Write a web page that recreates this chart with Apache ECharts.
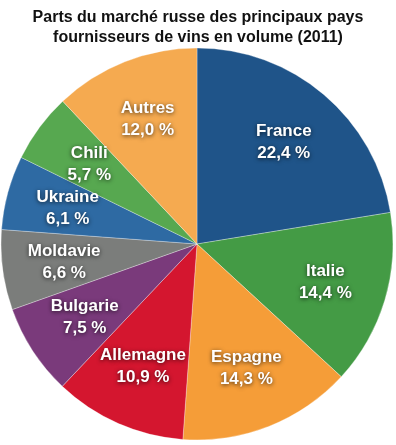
<!DOCTYPE html>
<html><head><meta charset="utf-8">
<script src="https://cdn.jsdelivr.net/npm/echarts@6/dist/echarts.min.js"></script>
<style>html,body{margin:0;padding:0;background:#fff}#c{width:396px;height:445px}</style>
</head><body><div id="c"></div>
<script>
const categories = ['France','Italie','Espagne','Allemagne','Bulgarie','Moldavie','Ukraine','Chili','Autres'];
const values = [22.4,14.4,14.3,10.9,7.5,6.6,6.1,5.7,12.0];
const colors = ['#1f5489','#449b45','#f59d38','#d4162f','#7a3a7b','#7b7d7b','#2e6aa3','#57a850','#f5aa50'];
const titleText = 'Parts du marché russe des principaux pays\nfournisseurs de vins en volume (2011)';

const data = categories.map((n,i)=>({name:n,value:values[i],itemStyle:{color:colors[i]}}));
const fmt = v => v.toFixed(1).replace('.', ',') + ' %';
const chart = echarts.init(document.getElementById('c'), null, {renderer:'canvas'});
chart.setOption({
  animation:false,
  title:{text:titleText,left:'center',top:3,textStyle:{fontFamily:'Liberation Sans',fontWeight:'bold',fontSize:16,lineHeight:20,color:'#111'}},
  series:[
    {type:'pie',center:[197,244],radius:[0,196],startAngle:90,clockwise:true,silent:true,
     data:data,label:{show:false},labelLine:{show:false},
     itemStyle:{borderColor:'rgba(255,255,255,0.5)',borderWidth:0.6}},
    {type:'pie',center:[197,244],radius:[66,196],startAngle:90,clockwise:true,silent:true,
     data:data.map(d=>({name:d.name,value:d.value,itemStyle:{color:'rgba(0,0,0,0)'}})),
     label:{show:true,position:'inside',formatter:p=>p.name+'\n'+fmt(p.value),
       fontFamily:'Liberation Sans',fontWeight:'bold',fontSize:17,lineHeight:22,color:'#fff',
       textShadowColor:'rgba(0,0,0,0.7)',textShadowBlur:4,textShadowOffsetX:0,textShadowOffsetY:1},
     labelLine:{show:false},itemStyle:{borderWidth:0}}
  ]
});
</script></body></html>
